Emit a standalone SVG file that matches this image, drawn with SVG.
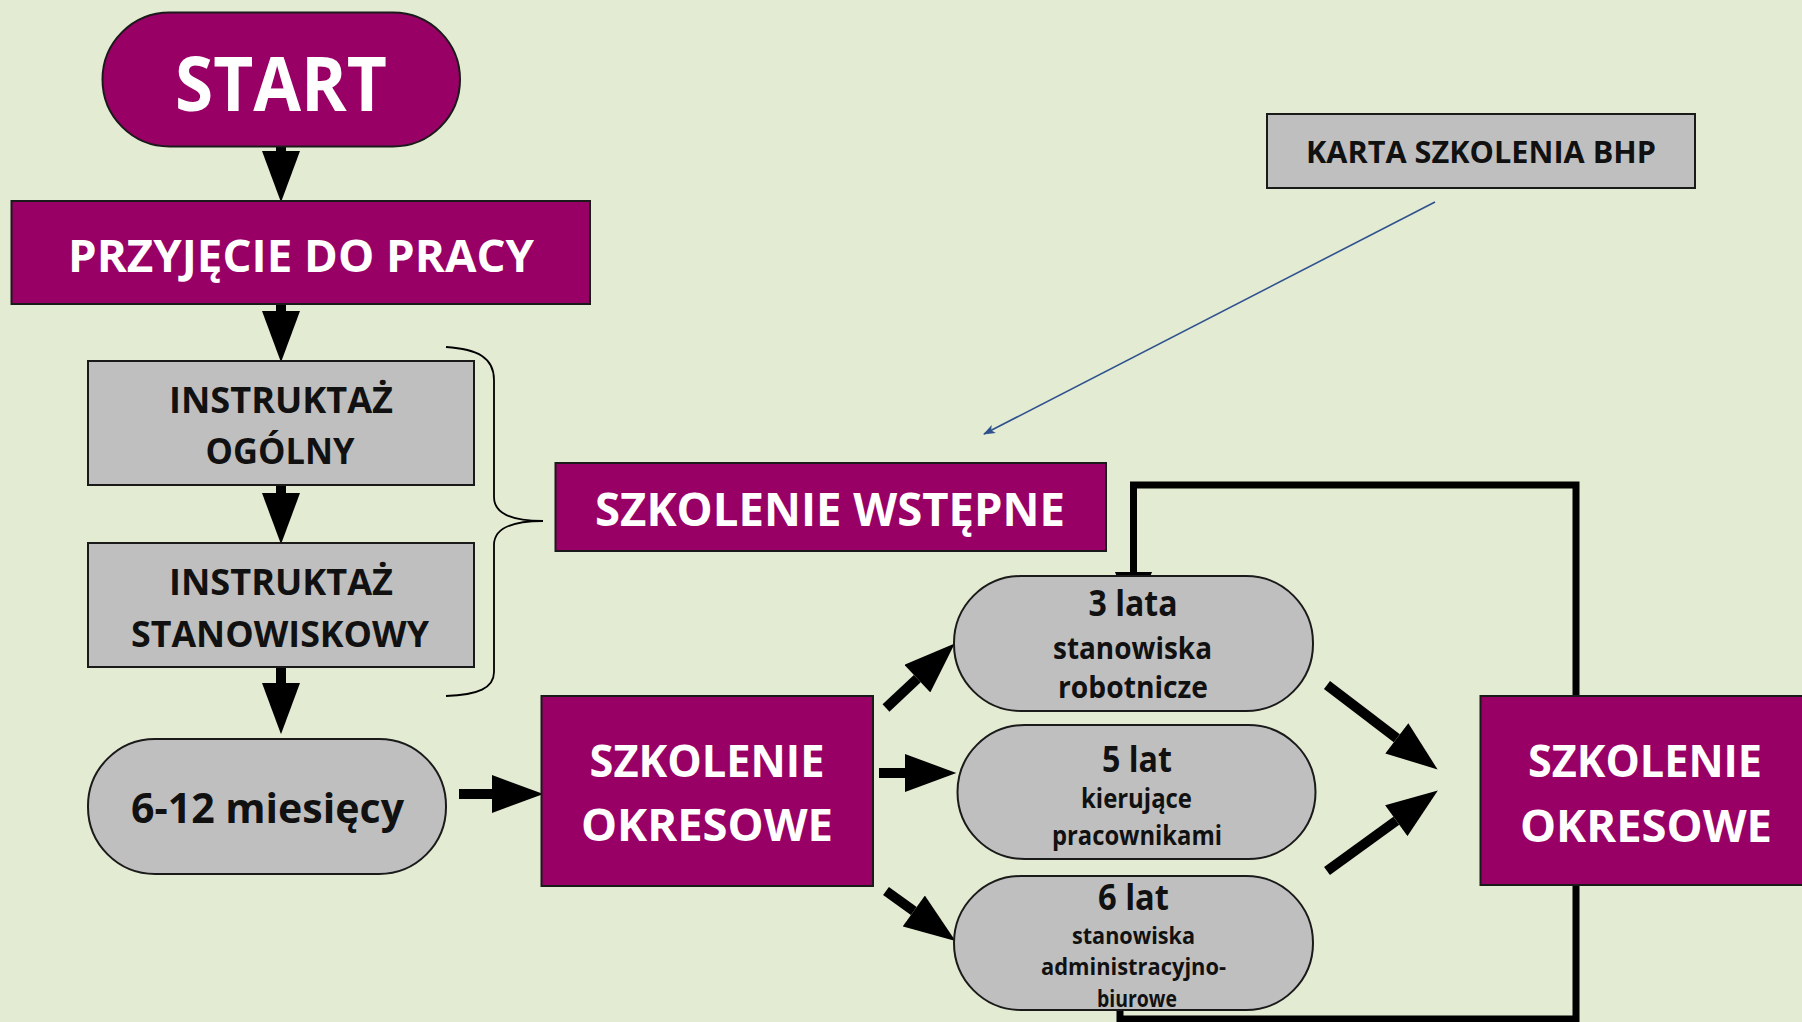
<svg xmlns="http://www.w3.org/2000/svg" width="1802" height="1022" viewBox="0 0 1802 1022">
<defs>
<style>
.bg{fill:#E3EBD2}
.pur{fill:#990066;stroke:#1a1a1a;stroke-width:2}
.gry{fill:#BFBFBF;stroke:#1a1a1a;stroke-width:2}
.wt{font-family:"Open Sans","Liberation Sans",sans-serif;font-weight:700;fill:#FFFFFF;text-anchor:middle}
.bt{font-family:"Open Sans","Liberation Sans",sans-serif;font-weight:700;fill:#111111;text-anchor:middle}
.shaft{stroke:#000;stroke-width:10;fill:none}
.loop{stroke:#000;stroke-width:7;fill:none}
</style>
<marker id="head" markerUnits="userSpaceOnUse" markerWidth="52" markerHeight="38" refX="0" refY="18.5" orient="auto" viewBox="0 0 50 37">
<path d="M0,0 L50,18.5 L0,37 Z" fill="#000"/>
</marker>
<marker id="thin" markerUnits="userSpaceOnUse" markerWidth="12" markerHeight="10" refX="11" refY="4.5" orient="auto" viewBox="0 0 12 9">
<path d="M0,0 L12,4.5 L0,9 L3,4.5 Z" fill="#2F528F"/>
</marker>
</defs>
<rect class="bg" x="0" y="0" width="1802" height="1022"/>

<g id="connectors">
<line class="shaft" x1="281" y1="146" x2="281" y2="151" marker-end="url(#head)"/>
<line class="shaft" x1="281" y1="303" x2="281" y2="311" marker-end="url(#head)"/>
<line class="shaft" x1="281" y1="484" x2="281" y2="493" marker-end="url(#head)"/>
<line class="shaft" x1="281" y1="666" x2="281" y2="683" marker-end="url(#head)"/>
<line class="shaft" x1="459" y1="794" x2="492" y2="794" marker-end="url(#head)"/>
<line class="shaft" x1="879" y1="773" x2="905" y2="773" marker-end="url(#head)"/>
<line class="shaft" x1="886" y1="708" x2="917.3" y2="678.6" marker-end="url(#head)"/>
<line class="shaft" x1="886" y1="891" x2="913.8" y2="911" marker-end="url(#head)"/>
<line class="shaft" x1="1327" y1="685" x2="1396.8" y2="738.3" marker-end="url(#head)"/>
<line class="shaft" x1="1327" y1="871" x2="1396.3" y2="820.7" marker-end="url(#head)"/>
<polyline class="loop" points="1576,700 1576,485 1133.5,485 1133.5,573"/>
<path d="M1115,572 L1152,572 L1150,577 L1117,577 Z" fill="#000"/>
<polyline class="loop" points="1576,880 1576,1019 1120,1019 1120,1005"/>
<line x1="1435" y1="202" x2="984" y2="434" stroke="#2F528F" stroke-width="1.6" marker-end="url(#thin)"/>
<path d="M446,347 C478,349 494,358 494,380 L494,497 C494,512 508,521 543,521 C508,521 494,530 494,545 L494,672 C494,688 478,695 446,696" fill="none" stroke="#000" stroke-width="1.8"/>
</g>

<g id="start">
<rect class="pur" x="102.5" y="12.5" width="357.5" height="134" rx="67"/>
<text class="wt" x="281" y="111" font-size="75" textLength="212" lengthAdjust="spacingAndGlyphs" fill="#F2F2F2">START</text>
</g>
<g id="przyjecie">
<rect class="pur" x="11.5" y="201" width="578.5" height="103"/>
<text class="wt" x="301" y="272" font-size="45" textLength="466" lengthAdjust="spacingAndGlyphs">PRZYJĘCIE DO PRACY</text>
</g>
<g id="instruktaz-ogolny">
<rect class="gry" x="88" y="361" width="386" height="124"/>
<text class="bt" x="281" y="413" font-size="35" textLength="224" lengthAdjust="spacingAndGlyphs">INSTRUKTAŻ</text>
<text class="bt" x="280" y="464" font-size="35" textLength="149" lengthAdjust="spacingAndGlyphs">OGÓLNY</text>
</g>
<g id="instruktaz-stanowiskowy">
<rect class="gry" x="88" y="543" width="386" height="124"/>
<text class="bt" x="281" y="595" font-size="35" textLength="224" lengthAdjust="spacingAndGlyphs">INSTRUKTAŻ</text>
<text class="bt" x="280" y="647" font-size="35" textLength="298" lengthAdjust="spacingAndGlyphs">STANOWISKOWY</text>
</g>
<g id="miesiecy">
<rect class="gry" x="88" y="739" width="358" height="135" rx="67"/>
<text class="bt" x="267.5" y="823" font-size="42" fill="#000" textLength="273" lengthAdjust="spacingAndGlyphs">6-12 miesięcy</text>
</g>
<g id="szkolenie-wstepne">
<rect class="pur" x="555.5" y="463" width="550.5" height="88"/>
<text class="wt" x="830" y="526" font-size="46" textLength="470" lengthAdjust="spacingAndGlyphs">SZKOLENIE WSTĘPNE</text>
</g>
<g id="szkolenie-okresowe-1">
<rect class="pur" x="541.5" y="696" width="331.5" height="190"/>
<text class="wt" x="707" y="777" font-size="45" textLength="235" lengthAdjust="spacingAndGlyphs">SZKOLENIE</text>
<text class="wt" x="707" y="841" font-size="45" textLength="252" lengthAdjust="spacingAndGlyphs">OKRESOWE</text>
</g>
<g id="lata-3">
<rect class="gry" x="954" y="576" width="359" height="135" rx="67"/>
<text class="bt" x="1133" y="616" font-size="35" fill="#000" textLength="89" lengthAdjust="spacingAndGlyphs">3 lata</text>
<text class="bt" x="1132.5" y="659" font-size="31" fill="#000" textLength="159" lengthAdjust="spacingAndGlyphs">stanowiska</text>
<text class="bt" x="1133" y="698" font-size="31" fill="#000" textLength="150" lengthAdjust="spacingAndGlyphs">robotnicze</text>
</g>
<g id="lat-5">
<rect class="gry" x="957.5" y="725" width="358" height="134" rx="67"/>
<text class="bt" x="1137" y="771.5" font-size="35" fill="#000" textLength="70" lengthAdjust="spacingAndGlyphs">5 lat</text>
<text class="bt" x="1136.5" y="808" font-size="26" fill="#000" textLength="111" lengthAdjust="spacingAndGlyphs">kierujące</text>
<text class="bt" x="1137" y="845" font-size="26" fill="#000" textLength="170" lengthAdjust="spacingAndGlyphs">pracownikami</text>
</g>
<g id="lat-6">
<rect class="gry" x="954" y="876" width="359" height="134" rx="67"/>
<text class="bt" x="1133.5" y="910" font-size="35" fill="#000" textLength="71" lengthAdjust="spacingAndGlyphs">6 lat</text>
<text class="bt" x="1133.5" y="944" font-size="23" fill="#000" textLength="123" lengthAdjust="spacingAndGlyphs">stanowiska</text>
<text class="bt" x="1133.5" y="975" font-size="23" fill="#000" textLength="185" lengthAdjust="spacingAndGlyphs">administracyjno-</text>
<text class="bt" x="1137" y="1006.5" font-size="23" fill="#000" textLength="80" lengthAdjust="spacingAndGlyphs">biurowe</text>
</g>
<g id="szkolenie-okresowe-2">
<rect class="pur" x="1480.5" y="696" width="330" height="189"/>
<text class="wt" x="1645" y="776.5" font-size="45" textLength="234" lengthAdjust="spacingAndGlyphs">SZKOLENIE</text>
<text class="wt" x="1646" y="842" font-size="45" textLength="252" lengthAdjust="spacingAndGlyphs">OKRESOWE</text>
</g>
<g id="karta">
<rect class="gry" x="1267" y="114" width="428" height="74"/>
<text class="bt" x="1481" y="163" font-size="30" fill="#000" textLength="350" lengthAdjust="spacingAndGlyphs">KARTA SZKOLENIA BHP</text>
</g>
</svg>
